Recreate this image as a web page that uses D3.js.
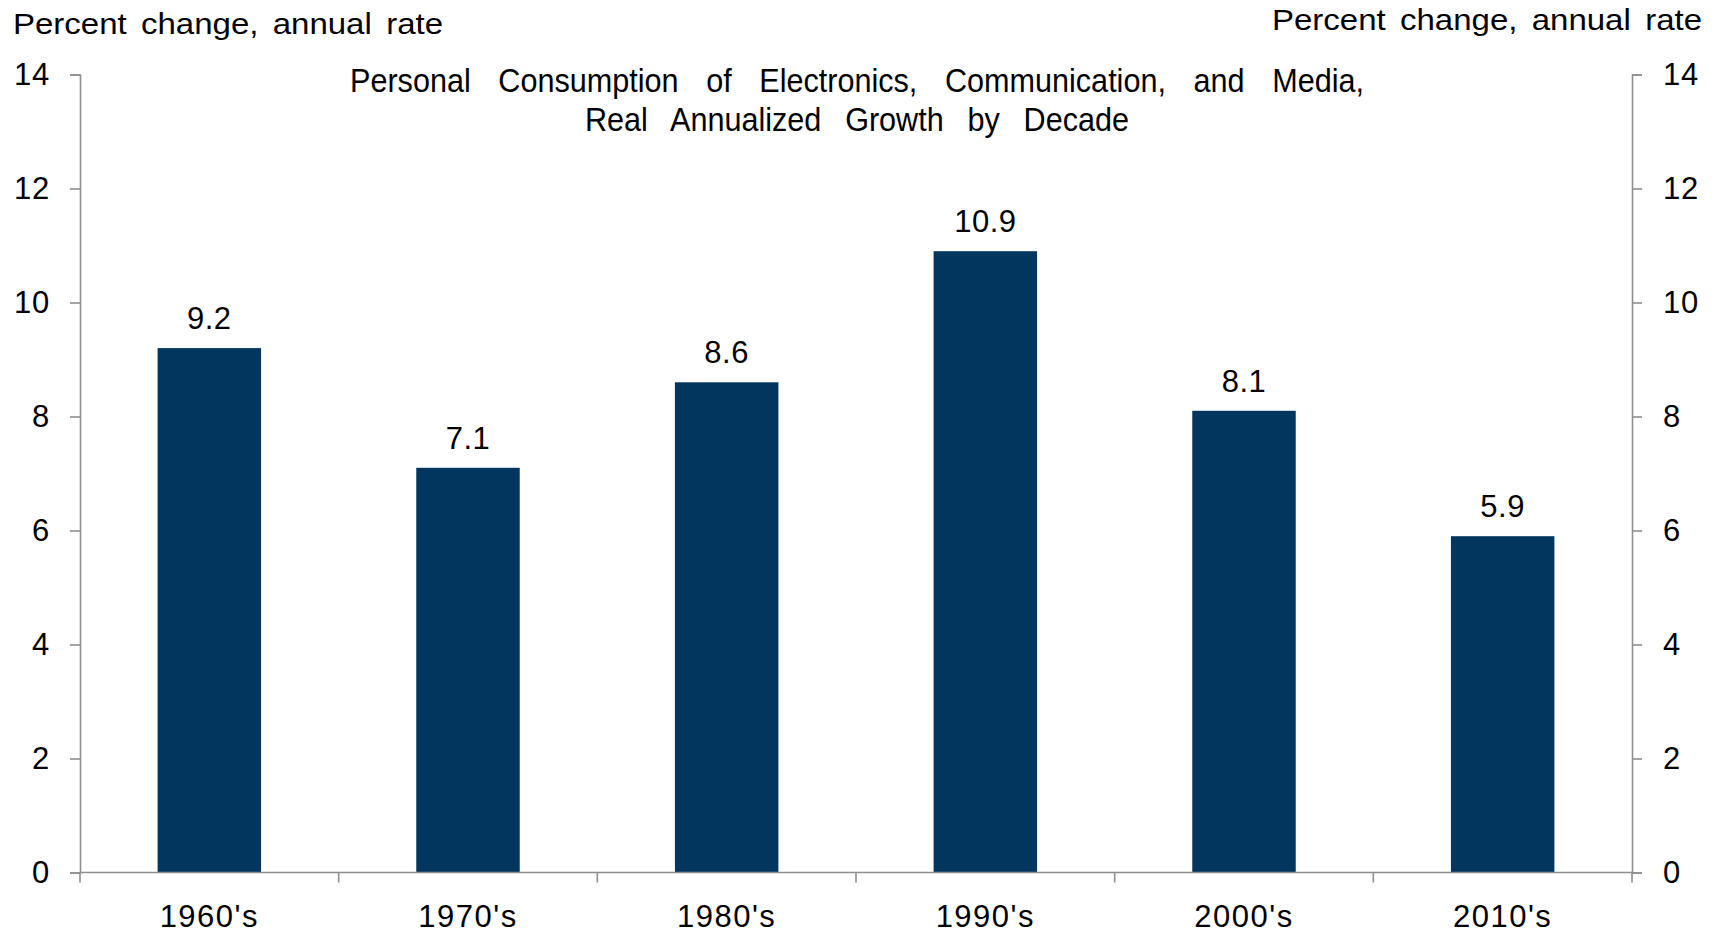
<!DOCTYPE html>
<html>
<head>
<meta charset="utf-8">
<script src="https://cdn.jsdelivr.net/npm/d3@7"></script>
<style>
  html, body { margin: 0; padding: 0; background: #fff; }
  svg { display: block; font-family: "Liberation Sans", Arial, sans-serif; }
</style>
</head>
<body>
<svg id="chart" width="1717" height="933"></svg>
<script>
// Decade labels and real annualized growth (percent change, annual rate)
const categories = ["1960's", "1970's", "1980's", "1990's", "2000's", "2010's"];
const growth = [9.2, 7.1, 8.6, 10.9, 8.1, 5.9];
const yTicks = [0, 2, 4, 6, 8, 10, 12, 14];
const titleLines = [
  "Personal Consumption of Electronics, Communication, and Media,",
  "Real Annualized Growth by Decade"
];
const unitLabel = "Percent change, annual rate";

const svg = d3.select("#chart");
const plotLeft = 80, plotRight = 1632, plotTop = 74.5, plotBottom = 872.5;
const axisColor = "#8e8e8e";
const barColor = "#02365E";

const x = d3.scaleBand().domain(categories).range([plotLeft, plotRight]).padding(0);
const y = d3.scaleLinear().domain([0, 14]).range([plotBottom, plotTop]);
const barW = x.bandwidth() * 0.4;

// Bars
svg.append("g").selectAll("rect").data(categories).join("rect")
  .attr("x", (d) => x(d) + (x.bandwidth() - barW) / 2)
  .attr("y", (d, i) => y(growth[i]))
  .attr("width", barW)
  .attr("height", (d, i) => y(0) - y(growth[i]))
  .attr("fill", barColor);

// Value labels above bars
svg.append("g").selectAll("text").data(categories).join("text")
  .attr("x", (d) => x(d) + x.bandwidth() / 2)
  .attr("y", (d, i) => y(growth[i]) - 19)
  .attr("text-anchor", "middle")
  .attr("font-size", 31)
  .attr("letter-spacing", 0.5)
  .text((d, i) => growth[i].toFixed(1));

function styleAxis(g) {
  g.selectAll("path, line").attr("stroke", axisColor).attr("stroke-width", 1.6);
  g.selectAll("text").attr("fill", "#000").attr("font-size", 31)
    .attr("font-family", "Liberation Sans, Arial, sans-serif").attr("letter-spacing", 0.8);
}

// Left and right value axes
svg.append("g").attr("transform", `translate(${plotLeft},0)`)
  .call(d3.axisLeft(y).tickValues(yTicks).tickSize(10).tickPadding(20).tickFormat(d3.format("d")))
  .call(styleAxis);
svg.append("g").attr("transform", `translate(${plotRight},0)`)
  .call(d3.axisRight(y).tickValues(yTicks).tickSize(10).tickPadding(21).tickFormat(d3.format("d")))
  .call(styleAxis);

// Category axis: tick marks at band boundaries, labels at band centres
const bAxis = svg.append("g");
bAxis.append("line").attr("x1", plotLeft).attr("x2", plotRight).attr("y1", plotBottom).attr("y2", plotBottom);
const bounds = categories.map((d) => x(d)).concat([plotRight]);
bAxis.selectAll("line.tick").data(bounds).join("line").attr("class", "tick")
  .attr("x1", (d) => d).attr("x2", (d) => d).attr("y1", plotBottom).attr("y2", plotBottom + 10);
bAxis.selectAll("line").attr("stroke", axisColor).attr("stroke-width", 1.6);
bAxis.selectAll("text").data(categories).join("text")
  .attr("x", (d) => x(d) + x.bandwidth() / 2)
  .attr("y", 927)
  .attr("text-anchor", "middle")
  .attr("font-size", 31)
  .attr("letter-spacing", 1.5)
  .text((d) => d);

// Fit a label to a given width by widening its word gaps
function fitWords(sel, width, scaleX) {
  const node = sel.node();
  const natural = node.getComputedTextLength();
  const gaps = (node.textContent.match(/ /g) || []).length;
  const extra = gaps ? (width / scaleX - natural) / gaps : 0;
  sel.attr("word-spacing", Math.max(0, extra));
}

// Unit labels above each value axis (slightly widened glyphs)
const uScale = 1.1;
const ulLeft = svg.append("text")
  .attr("transform", `translate(13,34) scale(${uScale},1)`)
  .attr("font-size", 30).text(unitLabel);
fitWords(ulLeft, 430, uScale);
const ulRight = svg.append("text")
  .attr("transform", `translate(1702,30) scale(${uScale},1)`)
  .attr("text-anchor", "end")
  .attr("font-size", 30).text(unitLabel);
fitWords(ulRight, 430, uScale);

// Chart title, two centred lines
const titleW = [1014, 544];
const titleY = [92, 131];
const cx = (plotLeft + plotRight) / 2 + 1;
const tScale = 0.9;
titleLines.forEach((line, i) => {
  const t = svg.append("text")
    .attr("transform", `translate(${cx},${titleY[i]}) scale(${tScale},1)`)
    .attr("text-anchor", "middle")
    .attr("font-size", 34)
    .text(line);
  fitWords(t, titleW[i], tScale);
});
</script>
</body>
</html>
